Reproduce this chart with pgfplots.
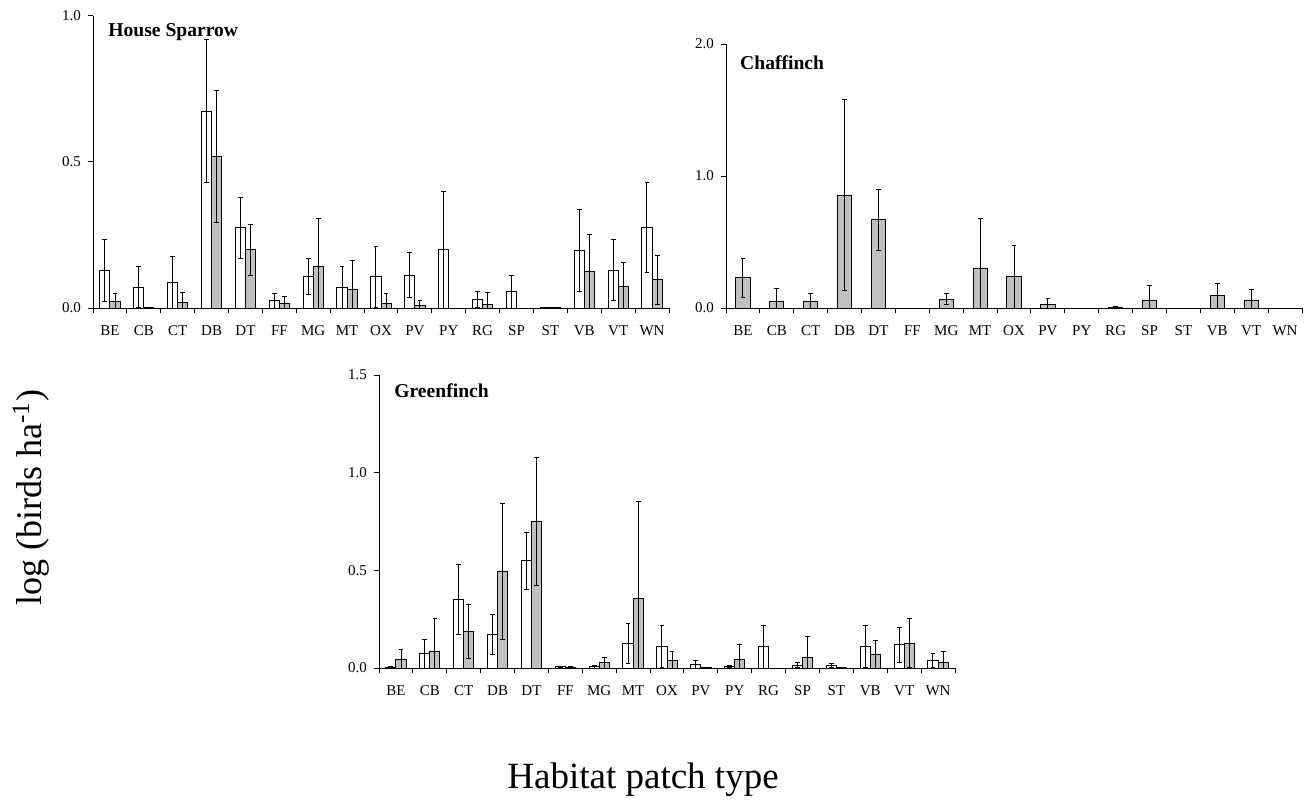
\documentclass[border=0pt]{standalone}
\usepackage{pgfplots}
\usepackage{pgfplotstable}
\pgfplotsset{compat=1.18}
\usepackage{fontspec}
\setmainfont{Liberation Serif}
\definecolor{barg}{RGB}{192,192,192}

\pgfplotstableread{
x w wp wm g gp gm
0 0.128 0.105 0.105 0.022 0.029 0.022
1 0.071 0.070 0.070 0.002 0 0
2 0.089 0.089 0.089 0.018 0.036 0.018
3 0.674 0.245 0.245 0.520 0.226 0.226
4 0.274 0.105 0.105 0.199 0.087 0.087
5 0.025 0.026 0.025 0.016 0.023 0.016
6 0.108 0.063 0.063 0.141 0.167 0.141
7 0.069 0.072 0.069 0.065 0.096 0.065
8 0.107 0.105 0.105 0.017 0.034 0.017
9 0.113 0.078 0.078 0.010 0.015 0.010
10 0.200 0.200 0.200 0.000 0 0
11 0.030 0.028 0.028 0.0125 0.039 0.0125
12 0.055 0.055 0.055 0 0 0
13 0.001 0 0 0.003 0 0
14 0.196 0.140 0.140 0.126 0.127 0.126
15 0.130 0.106 0.106 0.075 0.082 0.075
16 0.276 0.154 0.154 0.096 0.085 0.085
}\hs

\pgfplotstableread{
x g gp gm
0 0.229 0.146 0.146
1 0.050 0.100 0.050
2 0.050 0.060 0.050
3 0.856 0.720 0.720
4 0.668 0.233 0.233
5 0 0 0
6 0.068 0.040 0.040
7 0.302 0.376 0.302
8 0.237 0.239 0.237
9 0.030 0.043 0.030
10 0 0 0
11 0.003 0.007 0.003
12 0.060 0.113 0.060
13 0 0 0
14 0.093 0.093 0.093
15 0.058 0.081 0.058
16 0 0 0
}\cf

\pgfplotstableread{
x w wp wm g gp gm
0 0.003 0.003 0.003 0.044 0.052 0.044
1 0.072 0.072 0.072 0.087 0.169 0.087
2 0.352 0.180 0.180 0.189 0.138 0.138
3 0.171 0.104 0.104 0.493 0.347 0.347
4 0.549 0.145 0.145 0.751 0.327 0.327
5 0.006 0.004 0.004 0.004 0.002 0.002
6 0.006 0.008 0.006 0.026 0.027 0.026
7 0.126 0.103 0.103 0.357 0.495 0.357
8 0.111 0.109 0.109 0.036 0.046 0.036
9 0.019 0.019 0.019 0.002 0 0
10 0.010 0.005 0.005 0.041 0.077 0.041
11 0.108 0.109 0.108 0 0 0
12 0.015 0.014 0.014 0.056 0.106 0.056
13 0.014 0.010 0.010 0.002 0 0
14 0.111 0.109 0.109 0.067 0.075 0.067
15 0.119 0.090 0.090 0.126 0.125 0.125
16 0.039 0.036 0.036 0.027 0.055 0.027
}\gf

\tikzset{ttl/.style={anchor=west, inner sep=0pt, font=\bfseries\fontsize{9.8}{11}\selectfont}}

\pgfplotsset{
  panel/.style={
    scale only axis, width=288pt, anchor=south west,
    axis x line*=bottom, axis y line*=left,
    axis line style={line width=0.5pt, black},
    xmin=-0.5, xmax=16.5, ymin=0,
    xtick={-0.5,0.5,...,16.5}, xticklabels={},
    extra x ticks={0,...,16},
    extra x tick labels={BE,CB,CT,DB,DT,FF,MG,MT,OX,PV,PY,RG,SP,ST,VB,VT,WN},
    extra x tick style={major tick length=0pt},
    tick align=outside, major tick length=2.5pt,
    tick style={line width=0.5pt, black},
    tick label style={font=\fontsize{7.5}{9}\selectfont},
    xticklabel style={yshift=-5pt, text height=5.2pt, text depth=0pt},
    /pgf/number format/assume math mode=true,
    /pgf/number format/.cd, fixed, fixed zerofill, precision=1, /pgfplots/.cd,
    clip=false,
  },
  errb/.style={error bars/.cd, y dir=both, y explicit,
    error bar style={line width=0.5pt, black},
    error mark options={rotate=90, mark size=1.2pt, line width=0.5pt, black}},
  wbar/.style={ybar, bar width=0.3, bar shift=0, draw=black, fill=white, line width=0.5pt, errb},
  gbar/.style={ybar, bar width=0.3, bar shift=0, draw=black, fill=barg, line width=0.5pt, errb},
}

\begin{document}
\begin{tikzpicture}
\path[use as bounding box] (0,0) rectangle (654.5pt,-403.5pt);

\begin{axis}[panel, at={(46.5pt,-154pt)}, height=146pt, ymax=1, ytick={0,0.5,1}]
\addplot[wbar] table[x expr=\thisrow{x}-0.15, y=w, y error plus=wp, y error minus=wm]{\hs};
\addplot[gbar] table[x expr=\thisrow{x}+0.15, y=g, y error plus=gp, y error minus=gm]{\hs};
\node[ttl] at (rel axis cs:0.026,0.945) {House Sparrow};
\end{axis}

\begin{axis}[panel, at={(363pt,-154pt)}, height=132pt, ymax=2, ytick={0,1,2}]
\addplot[ybar, bar width=0.42, bar shift=0, draw=black, fill=barg, line width=0.5pt, errb] table[x=x, y=g, y error plus=gp, y error minus=gm]{\cf};
\node[ttl] at (rel axis cs:0.024,0.928) {Chaffinch};
\end{axis}

\begin{axis}[panel, at={(189.5pt,-334pt)}, height=146.5pt, ymax=1.5, ytick={0,0.5,1,1.5}]
\addplot[wbar] table[x expr=\thisrow{x}-0.15, y=w, y error plus=wp, y error minus=wm]{\gf};
\addplot[gbar] table[x expr=\thisrow{x}+0.15, y=g, y error plus=gp, y error minus=gm]{\gf};
\node[ttl] at (rel axis cs:0.026,0.945) {Greenfinch};
\end{axis}

\node[rotate=90, font=\fontsize{18}{20}\selectfont] at (15.5pt,-248.75pt) {log (birds ha\textsuperscript{-1})};
\node[font=\fontsize{18.5}{20}\selectfont] at (321.5pt,-390pt) {Habitat patch type};
\end{tikzpicture}
\end{document}
